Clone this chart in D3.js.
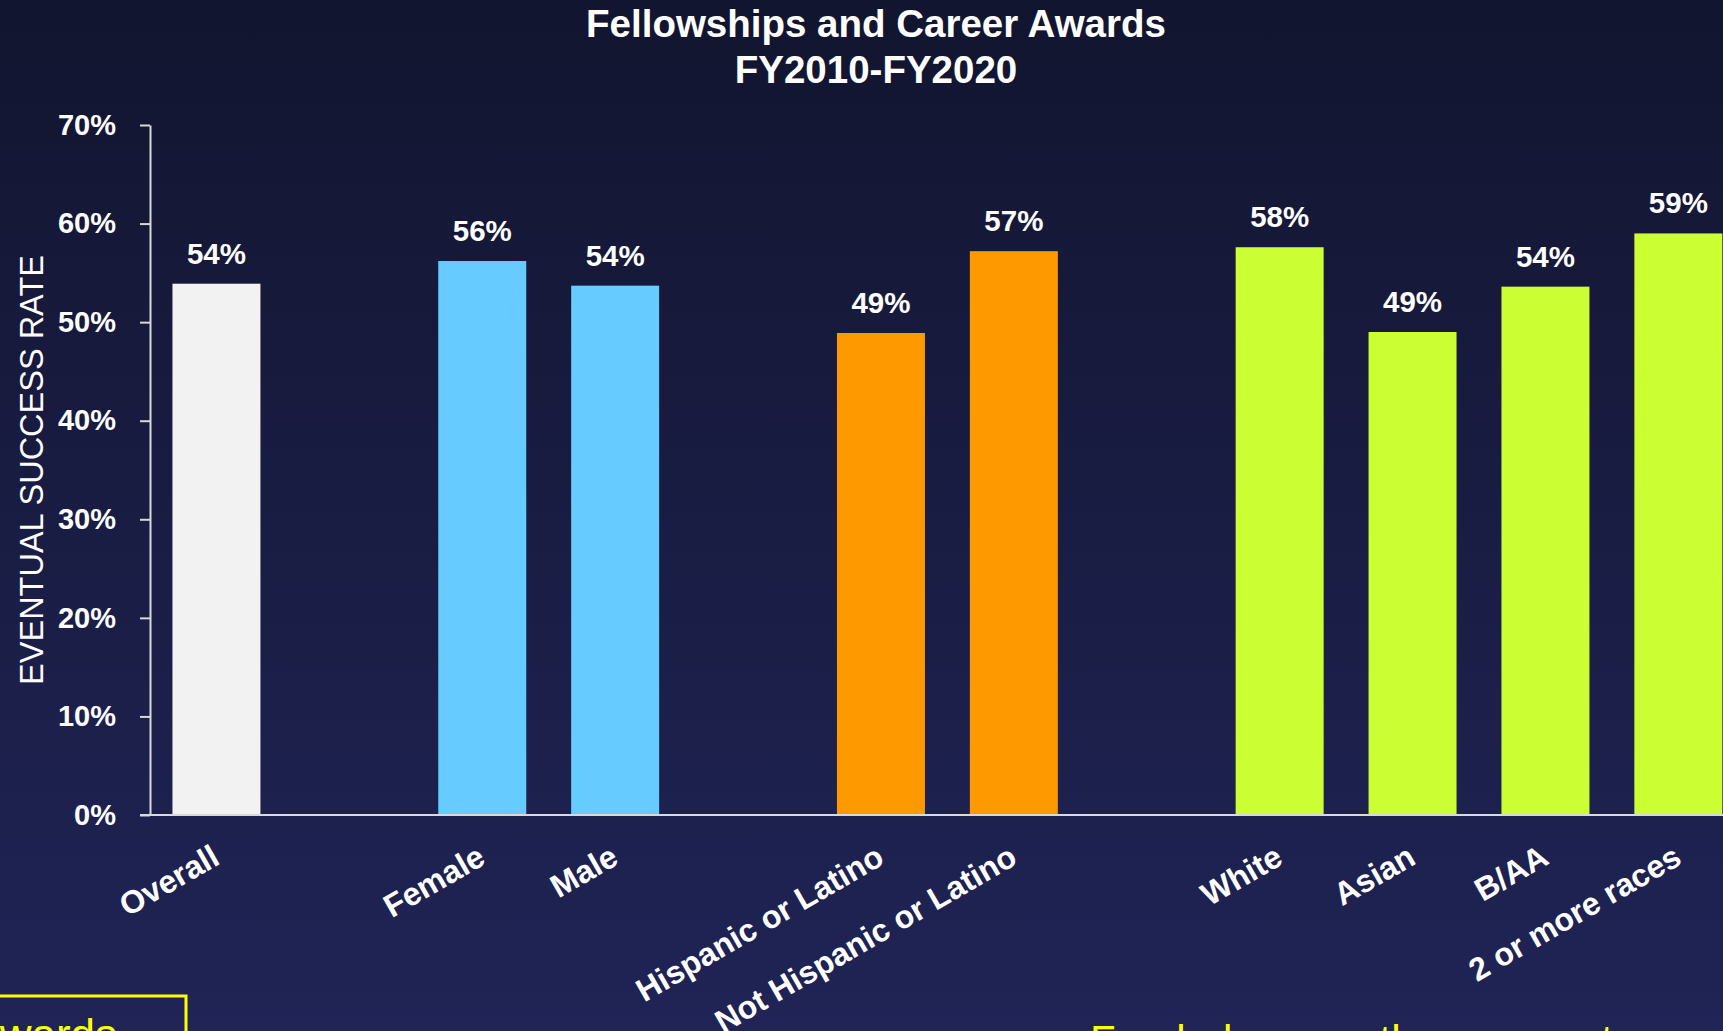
<!DOCTYPE html>
<html>
<head>
<meta charset="utf-8">
<script src="https://cdn.jsdelivr.net/npm/d3@7"></script>
<style>
  html, body { margin: 0; padding: 0; overflow: hidden; background: #1a1d45; }
  svg { display: block; font-family: "Liberation Sans", Arial, sans-serif; }
</style>
</head>
<body>
<script>
// chart values
var categories = ["Overall", "Female", "Male", "Hispanic or Latino", "Not Hispanic or Latino",
                  "White", "Asian", "B/AA", "2 or more races"];
var groups = ["overall", "gender", "gender", "ethnicity", "ethnicity", "race", "race", "race", "race"];
var rates = [53.9, 56.2, 53.7, 48.9, 57.2, 57.6, 49.0, 53.6, 59.0];
var rateLabels = ["54%", "56%", "54%", "49%", "57%", "58%", "49%", "54%", "59%"];
var yTicks = [0, 10, 20, 30, 40, 50, 60, 70];
var titleLines = ["Fellowships and Career Awards", "FY2010-FY2020"];

var groupColor = {overall: "#f2f2f2", gender: "#66ccff", ethnicity: "#ff9900", race: "#ccff33"};

var W = 1723, H = 1031;
var margin = {top: 125, left: 150, bottom: H - 815};

// build slot list, with an empty slot between groups
var slots = [];
var data = categories.map(function (c, i) {
  return {name: c, group: groups[i], rate: rates[i], label: rateLabels[i]};
});
data.forEach(function (d, i) {
  if (i > 0 && d.group !== data[i - 1].group) slots.push("gap" + i);
  slots.push(d.name);
});

var step = 132.9;
var x = d3.scaleBand()
  .domain(slots)
  .range([margin.left, margin.left + slots.length * step])
  .paddingInner(0.338)
  .paddingOuter(0.169);

var y = d3.scaleLinear().domain([0, 70]).range([815, margin.top]);

var svg = d3.select("body").append("svg")
  .attr("width", W)
  .attr("height", H);

// background gradient
var grad = svg.append("defs").append("linearGradient")
  .attr("id", "bg").attr("x1", 0).attr("y1", 0).attr("x2", 0).attr("y2", 1);
grad.append("stop").attr("offset", "0%").attr("stop-color", "#12152f");
grad.append("stop").attr("offset", "100%").attr("stop-color", "#202456");
svg.append("rect").attr("width", W).attr("height", H).attr("fill", "url(#bg)");

// title
svg.append("text")
  .attr("x", 876)
  .attr("text-anchor", "middle")
  .attr("fill", "#ffffff")
  .attr("font-weight", "bold")
  .attr("font-size", 38.5)
  .selectAll("tspan")
  .data(titleLines)
  .enter().append("tspan")
  .attr("x", 876)
  .attr("y", function (d, i) { return 37 + i * 46; })
  .text(function (d) { return d; });

// bars
svg.selectAll("rect.bar")
  .data(data)
  .enter().append("rect")
  .attr("class", "bar")
  .attr("x", function (d) { return x(d.name); })
  .attr("width", x.bandwidth())
  .attr("y", function (d) { return y(d.rate); })
  .attr("height", function (d) { return y(0) - y(d.rate); })
  .attr("fill", function (d) { return groupColor[d.group]; });

// value labels
svg.selectAll("text.val")
  .data(data)
  .enter().append("text")
  .attr("class", "val")
  .attr("x", function (d) { return x(d.name) + x.bandwidth() / 2; })
  .attr("y", function (d) { return y(d.rate) - 20; })
  .attr("text-anchor", "middle")
  .attr("fill", "#ffffff")
  .attr("font-weight", "bold")
  .attr("font-size", 29.5)
  .text(function (d) { return d.label; });

// y axis
var yAxis = svg.append("g")
  .attr("transform", "translate(" + margin.left + ",0)")
  .call(d3.axisLeft(y).tickValues(yTicks).tickSize(10).tickSizeOuter(0)
    .tickPadding(24).tickFormat(function (d) { return d + "%"; }));
yAxis.select(".domain").attr("stroke", "#d9d9d9").attr("stroke-width", 2);
yAxis.selectAll(".tick line").attr("stroke", "#d9d9d9").attr("stroke-width", 2);
yAxis.selectAll(".tick text")
  .attr("fill", "#ffffff")
  .attr("font-weight", "bold")
  .attr("font-size", 29)
  .attr("font-family", "Liberation Sans, Arial, sans-serif");

// baseline
svg.append("line")
  .attr("x1", margin.left - 10).attr("x2", W)
  .attr("y1", y(0)).attr("y2", y(0))
  .attr("stroke", "#d9d9d9").attr("stroke-width", 2);

// category labels
svg.selectAll("text.cat")
  .data(data)
  .enter().append("text")
  .attr("class", "cat")
  .attr("transform", function (d) {
    return "translate(" + (x(d.name) + x.bandwidth() / 2 + 5) + "," + 863 + ") rotate(-30)";
  })
  .attr("text-anchor", "end")
  .attr("fill", "#ffffff")
  .attr("font-weight", "bold")
  .attr("font-size", 32)
  .text(function (d) { return d.name; });

// y axis title
svg.append("text")
  .attr("transform", "translate(43,470) rotate(-90)")
  .attr("text-anchor", "middle")
  .attr("fill", "#ffffff")
  .attr("font-size", 32.5)
  .text("EVENTUAL SUCCESS RATE");

// bottom call-outs, cut by the page edge
svg.append("rect")
  .attr("x", -10).attr("y", 996)
  .attr("width", 196).attr("height", 60)
  .attr("fill", "none")
  .attr("stroke", "#ffff00")
  .attr("stroke-width", 3);
svg.append("text")
  .attr("x", 117).attr("y", 1050)
  .attr("text-anchor", "end")
  .attr("fill", "#ffff00")
  .attr("font-size", 44)
  .text("Awards");
svg.append("text")
  .attr("x", 1090).attr("y", 1055)
  .attr("fill", "#ffff00")
  .attr("font-size", 42)
  .text("Funded across the career stages");
</script>
</body>
</html>
